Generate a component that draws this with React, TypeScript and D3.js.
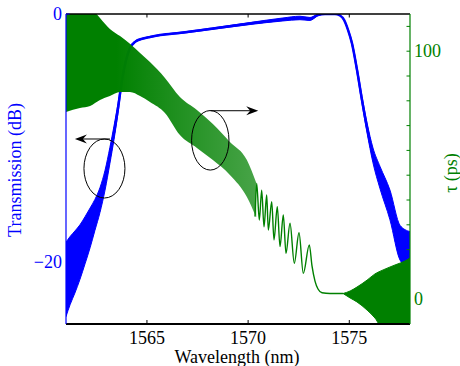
import React from "react";
import * as d3 from "d3";

const WIDTH = 460;
const HEIGHT = 366;
const M = { left: 66, right: 410, top: 14, bottom: 324 };

const BLUE = "#0000ff";
const GREEN = "#008000";
const FONT = "'Liberation Serif', 'Times New Roman', Times, serif";

// Axes
const X_DOMAIN = [1561, 1578];
const T_DOMAIN = [-25, 0];
const TAU_DOMAIN = [-10, 115];
const X_TICKS = [1565, 1570, 1575];
const T_TICKS = [-20, 0];
const TAU_TICKS = [0, 10, 20, 30, 40, 50, 60, 70, 80, 90, 100, 110];
const TAU_TICK_LABELS = [0, 100];

// Transmission (dB): mean and ripple half-amplitude
const T_WL = [1561.0, 1561.2, 1561.44, 1561.69, 1561.94, 1562.19, 1562.43, 1562.68, 1562.93, 1563.17, 1563.37, 1563.57, 1563.77, 1563.97, 1564.16, 1564.41, 1564.81, 1565.15, 1565.65, 1566.78, 1568.46, 1570.09, 1571.72, 1572.56, 1573.06, 1573.45, 1573.8, 1574.29, 1574.54, 1574.74, 1574.94, 1575.13, 1575.38, 1575.63, 1575.88, 1576.17, 1576.52, 1577.01, 1577.51, 1578.0];
const T_MEAN = [-21.4, -20.7, -20.0, -19.2, -18.25, -17.25, -16.2, -15.0, -13.4, -11.4, -9.6, -7.6, -5.3, -3.7, -2.75, -2.25, -1.98, -1.85, -1.7, -1.5, -1.13, -0.77, -0.44, -0.32, -0.4, -0.08, 0, 0, -0.12, -0.48, -1.3, -2.35, -4.5, -6.95, -9.2, -11.4, -13.2, -15.4, -18.45, -19.05];
const T_RIPPLE = [3.0, 2.75, 2.5, 2.2, 1.9, 1.6, 1.25, 1.0, 0.8, 0.65, 0.55, 0.4, 0.25, 0.15, 0.1, 0.06, 0.04, 0.04, 0.04, 0.05, 0.06, 0.08, 0.12, 0.14, 0.12, 0.05, 0.02, 0.02, 0.02, 0.05, 0.1, 0.15, 0.25, 0.3, 0.4, 0.6, 0.9, 1.2, 1.4, 1.5];

// Group delay (ps): densely rippled part, upper / lower envelope
const TAU_WL = [1561.0, 1561.69, 1562.19, 1562.68, 1563.17, 1563.67, 1564.16, 1564.66, 1565.15, 1565.89, 1566.63, 1567.47, 1568.26, 1569.1, 1569.94, 1570.4];
const TAU_UP = [125, 125, 118.3, 113.4, 109.0, 106.1, 103.0, 99.3, 95.6, 89.2, 81.5, 76.3, 70.6, 63.4, 56.1, 47.0];
const TAU_LO = [75.5, 77.1, 77.9, 80.3, 81.9, 83.5, 83.5, 81.9, 79.5, 75.1, 66.2, 61.0, 56.1, 50.1, 41.2, 33.0];

// Group delay: resolved ripples (peaks and troughs) and roll-off
const TAU_RES_WL = [1570.34, 1570.424, 1570.553, 1570.671, 1570.785, 1570.918, 1570.998, 1571.166, 1571.279, 1571.442, 1571.576, 1571.739, 1571.872, 1572.07, 1572.282, 1572.515, 1572.727, 1573.024, 1573.157, 1573.305, 1573.454, 1573.651, 1574.047, 1574.69];
const TAU_RES = [33.3, 46.7, 31.9, 44.0, 29.2, 42.0, 27.9, 39.3, 23.9, 37.3, 21.2, 34.0, 18.5, 30.6, 14.5, 26.8, 10.4, 21.9, 13.4, 7.3, 4.1, 2.6, 2.3, 2.3];

// Group delay: noisy tail, upper / lower envelope
const TAIL_WL = [1574.69, 1575.04, 1575.38, 1575.88, 1576.27, 1576.67, 1577.26, 1577.75, 1578.0];
const TAIL_UP = [2.3, 3.3, 4.9, 7.7, 10.2, 11.8, 13.8, 15.4, 16.6];
const TAIL_LO = [2.3, 0.5, -1.1, -4.4, -7.6, -12, -12, -12, -12];

// Annotations (data coordinates)
const LEFT_NOTE = { wl: 1562.9, db: -12.46, rWl: 1.013, rDb: 2.38, arrowFrom: 1563.17, arrowTo: 1561.44, arrowDb: -10.08 };
const RIGHT_NOTE = { wl: 1568.13, tau: 64.07, rWl: 0.924, rTau: 12.0, arrowFrom: 1568.13, arrowTo: 1570.5, arrowTau: 76.0 };

function Arrowhead({ x, y, dir }: { x: number; y: number; dir: number }) {
  const L = 12, W = 4.5, N = 8;
  const d = `M${x},${y} L${x - dir * L},${y - W} L${x - dir * N},${y} L${x - dir * L},${y + W} Z`;
  return <path d={d} fill="#000" />;
}

export default function App() {
  const x = d3.scaleLinear().domain(X_DOMAIN).range([M.left, M.right]);
  const yT = d3.scaleLinear().domain(T_DOMAIN).range([M.bottom, M.top]);
  const yTau = d3.scaleLinear().domain(TAU_DOMAIN).range([M.bottom, M.top]);

  const tIdx = d3.range(T_WL.length);
  const tBand = d3
    .area<number>()
    .x((i) => x(T_WL[i]))
    .y0((i) => yT(T_MEAN[i] - T_RIPPLE[i]))
    .y1((i) => yT(T_MEAN[i] + T_RIPPLE[i]))
    .curve(d3.curveMonotoneX);
  const tLine = d3
    .line<number>()
    .x((i) => x(T_WL[i]))
    .y((i) => yT(T_MEAN[i]))
    .curve(d3.curveMonotoneX);

  const gIdx = d3.range(TAU_WL.length);
  const gBand = d3
    .area<number>()
    .x((i) => x(TAU_WL[i]))
    .y0((i) => yTau(TAU_LO[i]))
    .y1((i) => yTau(TAU_UP[i]))
    .curve(d3.curveMonotoneX);
  const rIdx = d3.range(TAU_RES_WL.length);
  const gRes = d3
    .line<number>()
    .x((i) => x(TAU_RES_WL[i]))
    .y((i) => yTau(TAU_RES[i]))
    .curve(d3.curveMonotoneX);
  const tailIdx = d3.range(TAIL_WL.length);
  const gTail = d3
    .area<number>()
    .x((i) => x(TAIL_WL[i]))
    .y0((i) => yTau(TAIL_LO[i]))
    .y1((i) => yTau(TAIL_UP[i]))
    .curve(d3.curveMonotoneX);

  const lcx = x(LEFT_NOTE.wl), lcy = yT(LEFT_NOTE.db);
  const lrx = x(LEFT_NOTE.wl + LEFT_NOTE.rWl) - lcx;
  const lry = yT(LEFT_NOTE.db - LEFT_NOTE.rDb) - lcy;
  const rcx = x(RIGHT_NOTE.wl), rcy = yTau(RIGHT_NOTE.tau);
  const rrx = x(RIGHT_NOTE.wl + RIGHT_NOTE.rWl) - rcx;
  const rry = yTau(RIGHT_NOTE.tau - RIGHT_NOTE.rTau) - rcy;
  const laY = yT(LEFT_NOTE.arrowDb);
  const raY = yTau(RIGHT_NOTE.arrowTau);

  return (
    <svg width={WIDTH} height={HEIGHT} style={{ position: "absolute", left: 0, top: 0, background: "#fff" }} fontFamily={FONT}>
      <defs>
        <clipPath id="plot">
          <rect x={M.left} y={M.top} width={M.right - M.left} height={M.bottom - M.top} />
        </clipPath>
        <linearGradient id="gfade" gradientUnits="userSpaceOnUse" x1={x(1563.5)} x2={x(1570.4)} y1={0} y2={0}>
          <stop offset="0" stopColor={GREEN} stopOpacity={1} />
          <stop offset="0.35" stopColor={GREEN} stopOpacity={0.9} />
          <stop offset="1" stopColor={GREEN} stopOpacity={0.72} />
        </linearGradient>
      </defs>
      <rect x={0} y={0} width={WIDTH} height={HEIGHT} fill="#fff" />
      <g clipPath="url(#plot)">
        <path d={tBand(tIdx) || ""} fill={BLUE} stroke={BLUE} strokeWidth={1} />
        <path d={tLine(tIdx) || ""} fill="none" stroke={BLUE} strokeWidth={2.5} />
        <path d={gBand(gIdx) || ""} fill="url(#gfade)" stroke="none" />
        <path d={gRes(rIdx) || ""} fill="none" stroke={GREEN} strokeWidth={1.4} />
        <path d={gTail(tailIdx) || ""} fill={GREEN} stroke={GREEN} strokeWidth={1} />
      </g>

      {/* annotations */}
      <ellipse cx={lcx} cy={lcy} rx={lrx} ry={lry} fill="none" stroke="#000" strokeWidth={1} />
      <line x1={x(LEFT_NOTE.arrowFrom)} y1={laY} x2={x(LEFT_NOTE.arrowTo) + 8} y2={laY} stroke="#000" strokeWidth={1} />
      <Arrowhead x={x(LEFT_NOTE.arrowTo)} y={laY} dir={-1} />
      <ellipse cx={rcx} cy={rcy} rx={rrx} ry={rry} fill="none" stroke="#000" strokeWidth={1} />
      <line x1={x(RIGHT_NOTE.arrowFrom)} y1={raY} x2={x(RIGHT_NOTE.arrowTo) - 8} y2={raY} stroke="#000" strokeWidth={1} />
      <Arrowhead x={x(RIGHT_NOTE.arrowTo)} y={raY} dir={1} />

      {/* top axis */}
      <line x1={M.left} x2={M.right} y1={M.top} y2={M.top} stroke="#000" strokeWidth={1.5} />
      {X_TICKS.map((t) => (
        <line key={"tt" + t} x1={x(t)} x2={x(t)} y1={M.top} y2={M.top + 3.5} stroke="#000" strokeWidth={1} />
      ))}
      {/* bottom axis */}
      <line x1={M.left} x2={M.right} y1={M.bottom} y2={M.bottom} stroke="#000" strokeWidth={2} />
      {X_TICKS.map((t) => (
        <g key={"bt" + t}>
          <line x1={x(t)} x2={x(t)} y1={M.bottom} y2={M.bottom - 4} stroke="#000" strokeWidth={1} />
          <text x={x(t)} y={344} textAnchor="middle" fontSize={18} fill="#000">{t}</text>
        </g>
      ))}
      <text x={(M.left + M.right) / 2 - 1} y={363} textAnchor="middle" fontSize={18} fill="#000">Wavelength (nm)</text>

      {/* left axis */}
      <line x1={M.left} x2={M.left} y1={M.top} y2={M.bottom} stroke={BLUE} strokeWidth={1.2} />
      {T_TICKS.map((t) => (
        <g key={"lt" + t}>
          <line x1={M.left} x2={M.left + 3.5} y1={yT(t)} y2={yT(t)} stroke={BLUE} strokeWidth={1} />
          <text x={62} y={yT(t) + 6} textAnchor="end" fontSize={18} fill={BLUE}>{t < 0 ? "\u2212" + Math.abs(t) : String(t)}</text>
        </g>
      ))}
      <text transform={`translate(21,170) rotate(-90)`} textAnchor="middle" fontSize={18} fill={BLUE}>Transmission (dB)</text>

      {/* right axis */}
      <line x1={M.right} x2={M.right} y1={M.top} y2={M.bottom} stroke={GREEN} strokeWidth={1.2} />
      {TAU_TICKS.map((t) => (
        <line key={"rt" + t} x1={M.right} x2={M.right - 3.5} y1={yTau(t)} y2={yTau(t)} stroke={GREEN} strokeWidth={1} />
      ))}
      {TAU_TICK_LABELS.map((t) => (
        <text key={"rl" + t} x={414} y={yTau(t) + 6} textAnchor="start" fontSize={18} fill={GREEN}>{t}</text>
      ))}
      <text transform={`translate(457,173) rotate(-90)`} textAnchor="middle" fontSize={18} fill={GREEN}>τ (ps)</text>
    </svg>
  );
}
